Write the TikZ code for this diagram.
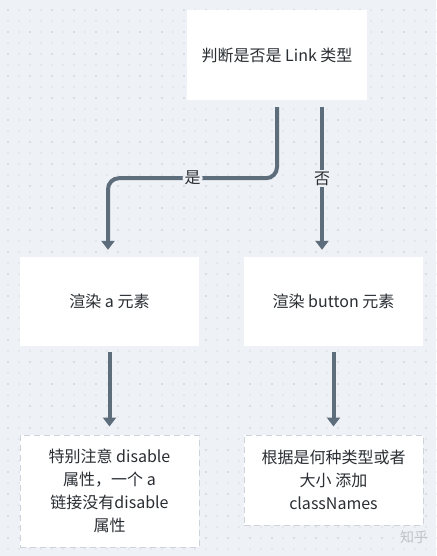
\documentclass[tikz,border=0pt]{standalone}
\usepackage{fontspec}
\setmainfont{Noto Sans CJK SC}
\usetikzlibrary{arrows.meta}
\definecolor{bgc}{HTML}{EEF1F5}
\definecolor{dotc}{HTML}{C3C9D1}
\definecolor{arrc}{HTML}{5E6D7B}
\definecolor{txtc}{HTML}{2A2E33}
\definecolor{dashc}{HTML}{CDD3DA}
\definecolor{wmc}{HTML}{BFC4C9}
\tikzset{
  solidbox/.style={fill=white, draw=none, inner sep=0pt, minimum width=179pt, minimum height=89pt, align=center, text=txtc, font=\fontsize{16pt}{23pt}\selectfont},
  dashbox/.style={fill=white, draw=dashc, line width=1pt, dash pattern=on 6pt off 4pt, inner sep=0pt, minimum width=179pt, align=center, text=txtc, font=\fontsize{16pt}{23pt}\selectfont},
  arr/.style={draw=arrc, line width=4pt, -{Triangle[width=13pt,length=9pt]}},
  lab/.style={fill=bgc, text=txtc, inner sep=2pt, font=\fontsize{16pt}{20pt}\selectfont}
}
\begin{document}
\begin{tikzpicture}[x=1pt,y=-1pt]
\fill[bgc] (0,0) rectangle (436,556);
\useasboundingbox (0,0) rectangle (436,556);
\foreach \i in {0,...,39} {
  \foreach \j in {0,...,50} {
    \pgfmathsetmacro{\rr}{(mod(\i,2)==0 && mod(\j,2)==0) ? 0.9 : 0.55}
    \fill[dotc] (8+11*\i, 10+11*\j) circle[radius=\rr pt];
  }
}
\node[solidbox, minimum width=180pt, minimum height=90pt] (top) at (277,55) {判断是否是 Link 类型};
\node[solidbox] (a) at (109.5,301.5) {渲染 a 元素};
\node[solidbox] (b) at (333.5,301.5) {渲染 button 元素};
\node[dashbox, minimum height=112pt] (c) at (109.5,491) {特别注意 disable\\属性，一个 a\\链接没有disable\\属性};
\node[dashbox, minimum height=90pt] (d) at (333.5,480) {根据是何种类型或者\\大小 添加\\classNames};
\coordinate (ta) at ([yshift=-7pt]top.south);
\coordinate (tb) at ([xshift=45pt,yshift=-7pt]top.south);
\coordinate (ea) at ([xshift=-1.5pt,yshift=7pt]a.north);
\coordinate (eb) at ([xshift=-11.5pt,yshift=7pt]b.north);
\draw[arr, rounded corners=11pt] (ta) -- ++(0,71) -| node[lab, pos=0.25] {是} (ea);
\draw[arr] (tb) -- node[lab, pos=0.5] {否} (eb);
\draw[arr] ([yshift=-6pt]a.south) -- ([yshift=8pt]c.north);
\draw[arr] ([yshift=-6pt]b.south) -- ([yshift=8pt]d.north);
\node[text=wmc, font=\fontsize{14pt}{16pt}\selectfont] (wm) at (414,537) {知乎};
\end{tikzpicture}
\end{document}
